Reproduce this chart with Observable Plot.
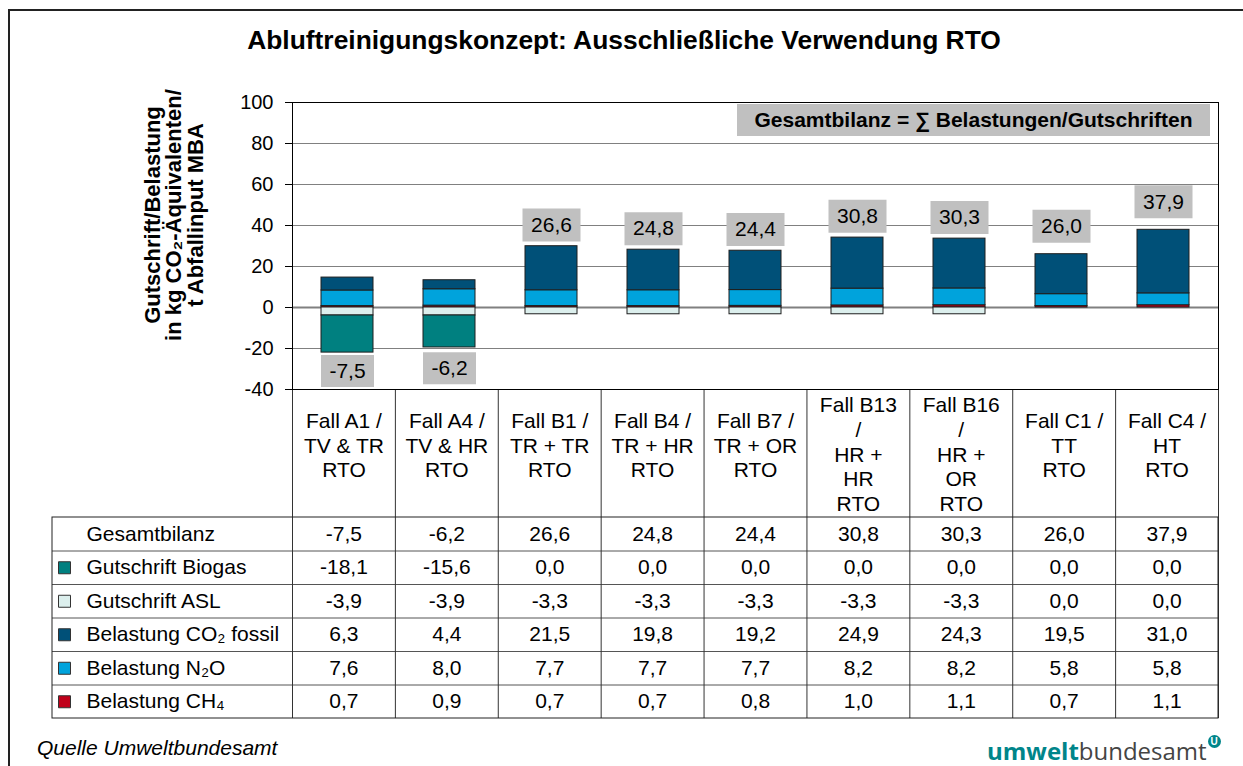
<!DOCTYPE html>
<html>
<head>
<meta charset="utf-8">
<script src="https://cdn.jsdelivr.net/npm/d3@7"></script>
<script src="https://cdn.jsdelivr.net/npm/@observablehq/plot@0.6"></script>
<style>
  html, body { margin: 0; padding: 0; background: #fff; }
  #wrap { position: relative; width: 1243px; height: 766px; overflow: hidden; background: #fff;
          font-family: "Liberation Sans", Arial, sans-serif; color: #000; }
  #border { position: absolute; left: 8px; top: 9px; width: 1300px; height: 900px;
            border-left: 2px solid #222; border-top: 2px solid #222; }
  #title { position: absolute; left: 624px; top: 27px; transform: translateX(-50%); white-space: nowrap;
           font-weight: bold; font-size: 26.4px; line-height: 1; }
  #legendbox { position: absolute; left: 737px; top: 104px; width: 473px; height: 32px; background: #c0c0c0;
               font-weight: bold; font-size: 21px; line-height: 32px; text-align: center; white-space: nowrap; }
  #source { position: absolute; left: 37px; top: 737px; font-style: italic; font-size: 21px; line-height: 1; white-space: nowrap; }
  #logo { position: absolute; left: 987px; top: 739px; font-family: "Open Sans", sans-serif; font-size: 24px; line-height: 1; white-space: nowrap; }
  #logo .a { color: #00858a; font-weight: 700; }
  #logo .b { color: #444; font-weight: 400; }
  #logo .u { display: inline-block; width: 13px; height: 13px; border-radius: 50%; background: #00858a; color: #fff;
             font-size: 10px; font-weight: 700; line-height: 13px; text-align: center; vertical-align: top; margin-top: -4px; margin-left: 1px;
             font-family: "Liberation Sans", Arial, sans-serif; }
  svg.layer { position: absolute; left: 0; top: 0; }
</style>
</head>
<body>
<div id="wrap">
  <div id="border"></div>
  <div id="title">Abluftreinigungskonzept: Ausschließliche Verwendung RTO</div>
  <div id="plots"></div>
  <div id="legendbox">Gesamtbilanz = ∑ Belastungen/Gutschriften</div>
  <div id="source">Quelle Umweltbundesamt</div>
  <div id="logo"><span class="a">umwelt</span><span class="b">bundesamt</span><span class="u">U</span></div>
</div>
<script>
// ---------- data ----------
const cases = ["A1", "A4", "B1", "B4", "B7", "B13", "B16", "C1", "C4"];
const caseLabels = [
  "Fall A1 /\nTV & TR\nRTO",
  "Fall A4 /\nTV & HR\nRTO",
  "Fall B1 /\nTR + TR\nRTO",
  "Fall B4 /\nTR + HR\nRTO",
  "Fall B7 /\nTR + OR\nRTO",
  "Fall B13\n/\nHR +\nHR\nRTO",
  "Fall B16\n/\nHR +\nOR\nRTO",
  "Fall C1 /\nTT\nRTO",
  "Fall C4 /\nHT\nRTO"
];
const gesamtbilanz = [-7.5, -6.2, 26.6, 24.8, 24.4, 30.8, 30.3, 26.0, 37.9];
const gutschriftBiogas = [-18.1, -15.6, 0.0, 0.0, 0.0, 0.0, 0.0, 0.0, 0.0];
const gutschriftASL = [-3.9, -3.9, -3.3, -3.3, -3.3, -3.3, -3.3, 0.0, 0.0];
const belastungCO2 = [6.3, 4.4, 21.5, 19.8, 19.2, 24.9, 24.3, 19.5, 31.0];
const belastungN2O = [7.6, 8.0, 7.7, 7.7, 7.7, 8.2, 8.2, 5.8, 5.8];
const belastungCH4 = [0.7, 0.9, 0.7, 0.7, 0.8, 1.0, 1.1, 0.7, 1.1];

const rowNames = ["Gesamtbilanz", "Gutschrift Biogas", "Gutschrift ASL", "Belastung CO₂ fossil", "Belastung N₂O", "Belastung CH₄"];
const seriesNames = ["Gutschrift Biogas", "Gutschrift ASL", "Belastung CO₂ fossil", "Belastung N₂O", "Belastung CH₄"];
const seriesColors = ["#008080", "#dcefed", "#005078", "#00a3dc", "#c0001a"];
const yTicks = [-40, -20, 0, 20, 40, 60, 80, 100];
const yLabel = "Gutschrift/Belastung\nin kg CO₂-Äquivalenten/\nt Abfallinput MBA";

// ---------- derived tables ----------
const rowValues = [gesamtbilanz, gutschriftBiogas, gutschriftASL, belastungCO2, belastungN2O, belastungCH4];
const seriesValues = {
  "Gutschrift Biogas": gutschriftBiogas,
  "Gutschrift ASL": gutschriftASL,
  "Belastung CO₂ fossil": belastungCO2,
  "Belastung N₂O": belastungN2O,
  "Belastung CH₄": belastungCH4
};
// stacking order: positive from zero up CH4, N2O, CO2; negative from zero down ASL, Biogas
const stackOrder = ["Belastung CH₄", "Belastung N₂O", "Belastung CO₂ fossil", "Gutschrift ASL", "Gutschrift Biogas"];
const long = [];
cases.forEach((c, i) => {
  stackOrder.forEach(s => {
    const v = seriesValues[s][i];
    if (v !== 0) long.push({case: c, series: s, value: v});
  });
});
const totals = cases.map((c, i) => ({case: c, total: gesamtbilanz[i]}));
const headers = caseLabels.map((label, i) => ({i, label, lines: label.split("\n").length}));

const locale = d3.formatLocale({decimal: ",", thousands: ".", grouping: [3], currency: ["", "€"], minus: "-"});
const fmt = locale.format(".1f");

const cells = [];
rowValues.forEach((arr, r) => arr.forEach((v, i) => cells.push({r, i, v})));

const FONT = '"Liberation Sans", Arial, sans-serif';

function boxSymbol(w, h) {
  return { draw(ctx) { ctx.rect(-w / 2, -h / 2, w, h); } };
}

// ---------- chart plot ----------
const chart = Plot.plot({
  width: 1243, height: 766,
  marginLeft: 292, marginRight: 25, marginTop: 102, marginBottom: 377,
  style: {fontFamily: FONT, fontSize: "20px", background: "transparent", overflow: "visible"},
  x: {domain: cases, padding: 0, axis: null},
  y: {domain: [-40, 100], axis: null},
  color: {domain: seriesNames, range: seriesColors},
  marks: [
    Plot.gridY(yTicks, {stroke: "#808080", strokeOpacity: 1, strokeWidth: 1}),
    Plot.ruleY([0], {stroke: "#808080", strokeWidth: 2}),
    Plot.barY(long, {x: "case", y: "value", fill: "series", stroke: "#1e1e1e", strokeWidth: 1, insetLeft: 25, insetRight: 25}),
    Plot.frame({stroke: "#000", strokeWidth: 1}),
    Plot.axisY(yTicks, {tickSize: 7, tickPadding: 12, tickFormat: d => String(d), fontSize: 20, stroke: "#000"}),
    Plot.dot(totals.filter(d => d.total >= 0), {x: "case", y: "total", symbol: boxSymbol(58, 33), fill: "#c0c0c0", dy: -28}),
    Plot.text(totals.filter(d => d.total >= 0), {x: "case", y: "total", text: d => fmt(d.total), dy: -28, fontSize: 21}),
    Plot.dot(totals.filter(d => d.total < 0), {x: "case", y: "total", symbol: boxSymbol(53, 32), fill: "#c0c0c0", dy: 48}),
    Plot.text(totals.filter(d => d.total < 0), {x: "case", y: "total", text: d => fmt(d.total), dy: 48, fontSize: 21}),
    Plot.text([yLabel], {text: d => d, frameAnchor: "left", rotate: -90, dx: -118, dy: -31, fontWeight: "bold", fontSize: 22, lineHeight: 0.97, textAnchor: "middle", lineAnchor: "middle"})
  ]
});

// ---------- table plot ----------
const table = Plot.plot({
  width: 1243, height: 766,
  marginLeft: 52, marginRight: 25, marginTop: 389, marginBottom: 48,
  style: {fontFamily: FONT, fontSize: "21px", background: "transparent", overflow: "visible"},
  x: {type: "linear", domain: [0, cases.length], range: [292, 1218], axis: null},
  y: {type: "linear", domain: [0, rowNames.length], range: [517, 718], axis: null},
  color: {domain: seriesNames, range: seriesColors},
  marks: [
    Plot.ruleY(d3.range(1, rowNames.length), {y: d => d, stroke: "#555"}),
    Plot.ruleX(d3.range(0, cases.length + 1), {x: d => d, stroke: "#333"}),
    Plot.rect([rowNames], {y1: () => 0, y2: () => rowNames.length, stroke: "#222", fill: "none"}),
    Plot.text(headers.filter(d => d.lines > 3), {x: d => d.i + 0.5, text: "label", frameAnchor: "top", dy: 64, lineAnchor: "middle", lineHeight: 1.19, fontSize: 21}),
    Plot.text(headers.filter(d => d.lines <= 3), {x: d => d.i + 0.5, text: "label", frameAnchor: "top", dy: 55, lineAnchor: "middle", lineHeight: 1.19, fontSize: 21}),
    Plot.text(rowNames, {y: (d, i) => i + 0.5, text: d => d, frameAnchor: "left", dx: 34, textAnchor: "start", fontSize: 21}),
    Plot.dot(rowNames.slice(1), {y: (d, i) => i + 1.5, fill: d => d, frameAnchor: "left", dx: 12, symbol: "square", r: 6.77, stroke: "#333", strokeWidth: 1}),
    Plot.text(cells, {x: d => d.i + 0.5, y: d => d.r + 0.5, text: d => fmt(d.v), fontSize: 21})
  ]
});

table.classList.add("layer");
chart.classList.add("layer");
const holder = document.getElementById("plots");
holder.appendChild(table);
holder.appendChild(chart);
</script>
</body>
</html>
